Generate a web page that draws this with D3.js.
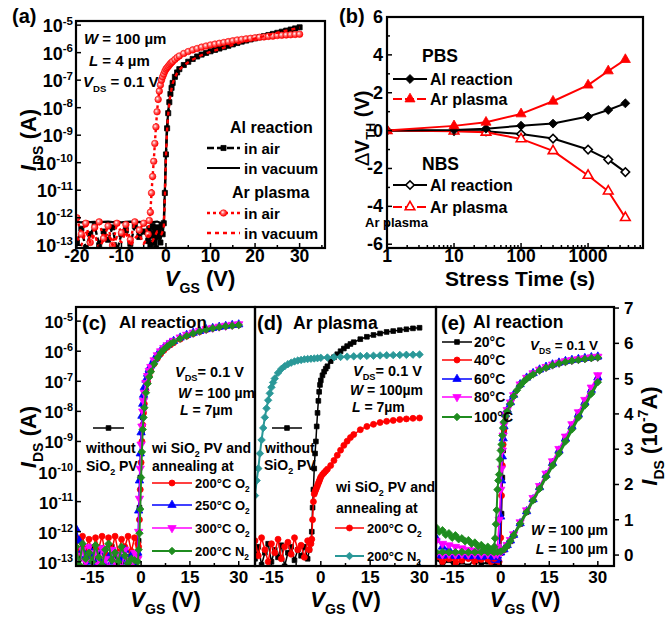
<!DOCTYPE html>
<html lang="en">
<head>
<meta charset="UTF-8" />
<title>TFT transfer and bias stress</title>
<script src="https://d3js.org/d3.v7.min.js"></script>
<style>
  body { margin: 0; background: #fff; }
  svg { display: block; font-family: "Liberation Sans", Arial, Helvetica, sans-serif; font-weight: bold; }
</style>
</head>
<body>
<svg id="fig" width="672" height="618"></svg>
<script>
// ---------- data (log10 of I_DS in A unless noted) ----------
// (a)
const vgsA = [-20,-19,-18,-17,-16,-15,-14,-13,-12,-11,-10,-9,-8,-7,-6,-5,-4,
  -3.75,-3.5,-3.25,-3,-2.75,-2.5,-2.25,-2,-1.75,-1.5,-1.25,-1,-0.75,-0.5,-0.25,0,0.25,0.5,0.75,1,1.25,1.5,2,2.5,3,
  4,5,6,7,8,9,10,11,12,13,14,15,16,17,18,19,20,21,22,23,24,25,26,27,28,29,30];
const alAirA = [-12.9,-12.4,-13.1,-12.6,-12.3,-13.0,-12.5,-12.8,-12.35,-13.2,-12.6,-12.45,-12.95,-12.3,-12.7,-12.5,-12.85,
  -12.4,-13.0,-12.6,-12.3,-12.9,-12.5,-13.1,-12.35,-12.7,-12.45,-12.9,-12.3,-12.6,-12.2,-11.1,
  -9.7,-8.75,-8.2,-7.8,-7.5,-7.28,-7.1,-6.88,-6.72,-6.6,
  -6.45,-6.33,-6.23,-6.14,-6.07,-6.01,-5.95,-5.9,-5.85,-5.8,-5.75,-5.7,-5.65,-5.6,-5.56,-5.52,-5.48,-5.44,-5.4,-5.36,-5.32,-5.28,-5.24,-5.2,-5.16,-5.12,-5.08];
const arAirA = [-12.0,-12.6,-12.2,-12.9,-12.35,-12.15,-12.75,-12.3,-13.0,-12.2,-12.55,-12.25,-12.8,-12.15,-12.45,-12.2,-12.6,
  -12.1,-11.8,-11.1,-10.5,-9.95,-9.3,-8.7,-8.15,-7.7,-7.4,-7.18,-7.0,-6.88,-6.78,-6.68,
  -6.6,-6.55,-6.5,-6.45,-6.4,-6.36,-6.32,-6.25,-6.18,-6.12,
  -6.03,-5.96,-5.9,-5.85,-5.8,-5.76,-5.72,-5.69,-5.66,-5.63,-5.6,-5.57,-5.54,-5.52,-5.5,-5.48,-5.46,-5.44,-5.43,-5.41,-5.4,-5.38,-5.37,-5.36,-5.35,-5.34,-5.33];
const vgsAv = [-20,-19,-18,-17,-16,-15,-14,-13,-12,-11,-10,-9,-8,-7,-6,-5,-4,-3,-2,-1,
  -0.5,-0.25,0,0.25,0.5,0.75,1,1.5,2,2.5,3,4,5,6,8,10,12,15,18,21,24,27,30];
const alVacA = [-12.15,-12.17,-12.14,-12.16,-12.15,-12.18,-12.15,-12.14,-12.16,-12.15,-12.17,-12.15,-12.14,-12.16,-12.15,-12.17,-12.15,-12.16,-12.14,-12.2,
  -12.3,-11.0,-9.6,-8.7,-8.15,-7.78,-7.48,-7.08,-6.86,-6.7,-6.58,-6.43,-6.31,-6.21,-6.05,-5.93,-5.83,-5.68,-5.54,-5.42,-5.3,-5.18,-5.06];
const arVacA = [-12.7,-13.0,-12.5,-12.9,-12.6,-13.1,-12.8,-12.55,-13.0,-12.7,-12.9,-12.5,-13.05,-12.75,-12.6,-12.95,-12.65,-12.85,-12.5,-12.6,
  -12.4,-11.2,-9.75,-8.8,-8.25,-7.85,-7.52,-7.12,-6.9,-6.74,-6.62,-6.47,-6.35,-6.25,-6.09,-5.97,-5.87,-5.72,-5.57,-5.44,-5.32,-5.2,-5.09];

// (b) threshold shift in V
const stressTime = [1, 10, 30, 100, 300, 1000, 2000, 3600];
const pbsAl = [0, 0.03, 0.1, 0.26, 0.37, 0.74, 1.09, 1.44];
const pbsAr = [0, 0.25, 0.44, 0.88, 1.55, 2.4, 3.15, 3.75];
const nbsAl = [0, -0.02, -0.04, -0.18, -0.42, -1.0, -1.53, -2.19];
const nbsAr = [0, -0.03, -0.09, -0.44, -1.07, -2.37, -3.2, -4.6];

// (c)
const vgsC = [-20,-19,-18,-17,-16,-15,-14,-13,-12,-11,-10,-9,-8,-7,-6,-5,-4,-3,-2,-1,
  -0.75,-0.5,-0.25,0,0.25,0.5,0.75,1,1.5,2,2.5,3,4,5,6,7,8,9,10,12,14,16,18,20,22,24,26,28,30];
const noPvC = [-12.6,-12.9,-12.5,-13.0,-12.7,-12.55,-12.95,-12.65,-13.05,-12.6,-12.8,-12.5,-12.9,-12.7,-13.0,-12.6,-12.85,-12.7,-12.9,-12.8,
  -12.3,-11.2,-10.2,-9.4,-8.7,-8.2,-7.8,-7.5,-7.12,-6.88,-6.7,-6.56,-6.34,-6.17,-6.03,-5.92,-5.82,-5.74,-5.67,
  -5.56,-5.47,-5.39,-5.33,-5.27,-5.23,-5.19,-5.16,-5.14,-5.12];
const o200C = [-12.2,-12.7,-12.15,-12.6,-12.25,-12.8,-12.2,-12.55,-12.15,-12.75,-12.2,-12.6,-12.15,-12.7,-12.25,-12.5,-12.15,-12.65,-12.2,-12.4,
  -12.5,-11.6,-10.6,-9.7,-9.0,-8.45,-8.05,-7.75,-7.3,-7.02,-6.82,-6.66,-6.42,-6.24,-6.09,-5.97,-5.87,-5.79,-5.72,
  -5.6,-5.5,-5.42,-5.35,-5.29,-5.24,-5.2,-5.17,-5.14,-5.12];
const o250C = [-11.9,-12.3,-12.6,-12.8,-13.0,-12.7,-13.2,-12.9,-12.6,-13.1,-12.85,-13.0,-12.7,-13.15,-12.9,-12.6,-13.0,-12.8,-13.1,-12.7,
  -11.3,-10.3,-9.4,-8.7,-8.15,-7.75,-7.45,-7.2,-6.95,-6.75,-6.6,-6.48,-6.28,-6.12,-5.99,-5.88,-5.8,-5.72,-5.66,
  -5.55,-5.46,-5.39,-5.33,-5.27,-5.23,-5.19,-5.16,-5.13,-5.11];
const o300C = [-12.8,-13.2,-12.6,-13.0,-12.5,-13.3,-12.7,-13.1,-12.55,-12.9,-13.2,-12.6,-13.0,-12.75,-13.25,-12.6,-12.95,-13.1,-12.7,-12.9,
  -12.0,-10.9,-9.9,-9.1,-8.5,-8.0,-7.65,-7.38,-7.05,-6.82,-6.65,-6.52,-6.3,-6.13,-6.0,-5.89,-5.8,-5.72,-5.65,
  -5.54,-5.45,-5.38,-5.32,-5.26,-5.22,-5.18,-5.15,-5.12,-5.1];
const n200C = [-12.5,-13.1,-12.4,-12.9,-12.7,-13.0,-12.45,-12.85,-13.1,-12.6,-12.4,-12.95,-12.7,-13.0,-12.5,-12.8,-13.05,-12.9,-12.95,-13.0,
  -12.6,-12.05,-11.25,-10.2,-9.35,-8.6,-8.2,-7.88,-7.38,-7.08,-6.86,-6.68,-6.42,-6.22,-6.06,-5.94,-5.84,-5.76,-5.69,
  -5.58,-5.49,-5.41,-5.34,-5.28,-5.24,-5.2,-5.17,-5.15,-5.13];

// (d)
const vgsD = [-20,-19,-18,-17,-16,-15,-14,-13,-12,-11,-10,-9,-8,-7,-6,-5,-4,
  -3.5,-3,-2.75,-2.5,-2.25,-2,-1.75,-1.5,-1.25,-1,-0.75,-0.5,-0.25,0,0.5,1,1.5,2,3,
  4,5,6,7,8,9,10,12,14,16,18,20,22,24,26,28,30];
const noPvD = [-12.9,-12.5,-13.1,-12.7,-12.4,-13.0,-12.6,-12.85,-12.45,-13.15,-12.7,-12.5,-12.95,-12.6,-12.8,-12.5,-12.9,
  -12.6,-12.3,-12.0,-11.2,-10.6,-9.9,-9.4,-9.0,-8.5,-8.05,-7.65,-7.35,-7.12,-6.97,-6.8,-6.68,-6.58,-6.5,-6.33,
  -6.2,-6.1,-6.0,-5.91,-5.83,-5.76,-5.7,-5.6,-5.52,-5.46,-5.41,-5.36,-5.33,-5.3,-5.27,-5.24,-5.22];
const o200D = [-12.3,-12.8,-12.2,-12.6,-13.0,-12.4,-12.7,-12.25,-12.9,-12.5,-12.35,-12.75,-12.2,-12.6,-12.45,-12.85,-12.3,
  -12.6,-12.4,-12.25,-11.6,-11.0,-10.75,-10.67,-10.6,-10.53,-10.46,-10.39,-10.32,-10.25,-10.18,-10.1,-10.04,-9.98,-9.92,-9.8,
  -9.63,-9.46,-9.29,-9.13,-8.99,-8.87,-8.77,-8.61,-8.5,-8.43,-8.37,-8.33,-8.3,-8.27,-8.25,-8.23,-8.22];
const vgsDn = [-20,-19.5,-19,-18.5,-18,-17.5,-17,-16.5,-16,-15.5,-15,-14.5,-14,
  -13,-12,-11,-10,-9,-8,-7,-6,-5,-4,-3,-2,-1,0,2,4,6,8,10,12,14,16,18,20,22,24,26,28,30];
const n200D = [-10.8,-10.3,-9.9,-9.4,-8.95,-8.55,-8.2,-7.9,-7.63,-7.4,-7.2,-7.04,-6.91,
  -6.72,-6.59,-6.5,-6.43,-6.38,-6.34,-6.31,-6.29,-6.27,-6.26,-6.25,-6.24,-6.23,-6.22,
  -6.21,-6.2,-6.19,-6.18,-6.17,-6.16,-6.155,-6.15,-6.14,-6.135,-6.13,-6.125,-6.12,-6.115,-6.11];

// (e) log curves
const vgsE = [-20,-19,-18,-17,-16,-15,-14,-13,-12,-11,-10,-9,-8,-7,-6,-5,-4,-3,
  -2.5,-2,-1.75,-1.5,-1.25,-1,-0.75,-0.5,-0.25,0,0.25,0.5,0.75,1,1.5,2,
  3,4,5,6,7,8,9,10,12,14,16,18,20,22,24,26,28,30];
const t100E = [-11.85,-12.0,-11.95,-12.1,-12.05,-12.2,-12.12,-12.25,-12.22,-12.32,-12.28,-12.4,-12.36,-12.48,-12.44,-12.55,-12.5,-12.6,
  -12.65,-12.5,-12.22,-11.75,-11.28,-10.6,-10.3,-10.1,-9.6,-9.3,-9.1,-8.8,-8.55,-8.35,-8.15,-8.0,
  -7.75,-7.5,-7.3,-7.15,-7.02,-6.92,-6.84,-6.77,-6.64,-6.55,-6.47,-6.41,-6.36,-6.32,-6.29,-6.26,-6.23,-6.21];
const vgsEc = [-20,-18,-16,-14,-12,-10,-8,-6,-4,-3,-2,-1.5,-1,-0.5,0,0.25,0.5,0.75,1,1.5,2,3,4,
  6,8,10,12,14,16,18,20,22,24,26,28,30];
const t20E = [-12.9,-13.1,-12.95,-13.2,-13.0,-13.15,-12.9,-13.1,-13.0,-12.95,-13.1,-13.0,-12.9,-13.05,
  -12.6,-11.4,-10.2,-9.3,-8.7,-8.2,-8.0,-7.73,-7.48,
  -7.12,-6.9,-6.75,-6.63,-6.54,-6.46,-6.4,-6.35,-6.31,-6.28,-6.25,-6.22,-6.2];
const t40E = [-12.85,-13.0,-12.9,-13.05,-12.95,-12.88,-13.0,-12.92,-12.85,-13.0,-12.9,-12.95,-12.85,-13.0,
  -12.2,-10.8,-9.8,-9.1,-8.6,-8.15,-7.98,-7.72,-7.47,
  -7.11,-6.89,-6.74,-6.62,-6.53,-6.45,-6.39,-6.34,-6.3,-6.27,-6.24,-6.21,-6.19];
const t60E = [-12.2,-12.5,-12.6,-12.7,-12.75,-12.8,-12.78,-12.85,-12.8,-12.9,-12.85,-12.95,-12.9,-12.7,
  -11.5,-10.3,-9.5,-8.9,-8.5,-8.1,-7.95,-7.7,-7.45,
  -7.1,-6.88,-6.73,-6.61,-6.52,-6.44,-6.38,-6.33,-6.29,-6.26,-6.23,-6.2,-6.18];
const t80E = [-12.3,-12.4,-12.45,-12.5,-12.55,-12.6,-12.62,-12.65,-12.7,-12.75,-12.8,-12.75,-12.5,-11.6,
  -10.6,-9.9,-9.3,-8.8,-8.45,-8.1,-7.95,-7.7,-7.46,
  -7.1,-6.88,-6.73,-6.61,-6.52,-6.44,-6.38,-6.33,-6.29,-6.26,-6.23,-6.2,-6.18];
// (e) linear curves, I_DS in 1e-7 A
const vgsEl = [-20,-18,-16,-14,-12,-10,-8,-6,-4,-2,-1,0,1,2,3,4,6,8,10,12,14,16,18,20,22,24,26,28,30];
const t20Lin = [0.05,0.04,0.05,0.05,0.04,0.05,0.05,0.04,0.05,0.05,0.05,0.08,0.15,0.26,0.39,0.55,
  0.88,1.22,1.56,1.9,2.24,2.58,2.92,3.26,3.6,3.94,4.28,4.62,4.96];
const t40Lin = [-0.05,-0.1,-0.08,-0.12,-0.06,-0.1,-0.14,-0.08,-0.12,-0.1,-0.05,0.06,0.15,0.27,0.4,0.56,
  0.89,1.23,1.57,1.91,2.25,2.6,2.94,3.28,3.62,3.96,4.3,4.65,5.0];
const t60Lin = [0.0,-0.02,0.01,-0.03,0.0,-0.04,-0.02,-0.05,-0.03,-0.06,-0.02,0.07,0.16,0.28,0.41,0.57,
  0.9,1.24,1.58,1.92,2.27,2.61,2.96,3.3,3.65,3.99,4.33,4.68,5.03];
const t80Lin = [0.03,0.02,0.03,0.02,0.03,0.02,0.03,0.02,0.03,0.02,0.03,0.08,0.17,0.29,0.43,0.59,
  0.93,1.27,1.62,1.96,2.31,2.66,3.01,3.36,3.71,4.05,4.4,4.75,5.1];
const t100Lin = [0.08,0.09,0.08,0.08,0.09,0.08,0.08,0.09,0.08,0.08,0.09,0.1,0.16,0.26,0.4,0.56,
  0.89,1.22,1.55,1.88,2.21,2.54,2.88,3.22,3.56,3.9,4.24,4.57,4.9];

// ---------- layout ----------
const svg = d3.select("#fig");
const defs = svg.append("defs");
const RED = "#ff0000", BLUE = "#0000ff", MAG = "#ff00ff", GREEN = "#1f8c1f", TEAL = "#2a9898";

const A = {l: 76, r: 325, t: 21, b: 248};
const B = {l: 387, r: 643, t: 17, b: 248};
const C = {l: 76, r: 255, t: 307, b: 566};
const D = {l: 255, r: 436, t: 307, b: 566};
const E = {l: 436, r: 614, t: 307, b: 566};

const xA = d3.scaleLinear().domain([-20.2, 35.7]).range([A.l, A.r]);
const yA = d3.scaleLog().domain([Math.pow(10, -13.1), Math.pow(10, -4.85)]).range([A.b, A.t]);
const xB = d3.scaleLog().domain([1, 6600]).range([B.l, B.r]);
const yB = d3.scaleLinear().domain([-6.2, 6]).range([B.b, B.t]);
const xC = d3.scaleLinear().domain([-20, 35]).range([C.l, C.r]);
const xD = d3.scaleLinear().domain([-20, 35]).range([D.l, D.r]);
const xE = d3.scaleLinear().domain([-20, 35]).range([E.l, E.r]);
const yL = d3.scaleLog().domain([Math.pow(10, -13.14), Math.pow(10, -4.53)]).range([C.b, C.t]);
const yE = d3.scaleLinear().domain([-0.31, 7.03]).range([E.b, E.t]);

const grad = defs.append("radialGradient").attr("id", "sphere")
  .attr("cx", "38%").attr("cy", "38%").attr("r", "62%");
grad.append("stop").attr("offset", "0%").attr("stop-color", "#ffffff");
grad.append("stop").attr("offset", "40%").attr("stop-color", "#ff7070");
grad.append("stop").attr("offset", "100%").attr("stop-color", "#ff0000");

function panel(id, P) {
  defs.append("clipPath").attr("id", "clip-" + id).append("rect")
    .attr("x", P.l).attr("y", P.t).attr("width", P.r - P.l).attr("height", P.b - P.t);
  return svg.append("g").attr("clip-path", `url(#clip-${id})`);
}

// text with italic / sub / sup parts
function rich(g, x, y, parts, size, opts = {}) {
  const t = g.append("text").attr("x", x).attr("y", y)
    .attr("font-size", size).attr("font-weight", "bold")
    .attr("text-anchor", opts.anchor || "start");
  if (opts.rotate) t.attr("transform", `rotate(${opts.rotate},${x},${y})`);
  let shift = 0;
  parts.forEach(p => {
    const [str, kind] = Array.isArray(p) ? p : [p, ""];
    let target = 0, fs = size;
    if (kind === "sub") { target = size * 0.3; fs = size * 0.64; }
    if (kind === "sup") { target = -size * 0.42; fs = size * 0.64; }
    const ts = t.append("tspan").text(str).attr("font-size", fs);
    if (target !== shift) ts.attr("dy", target - shift);
    shift = target;
    if (kind === "i") ts.attr("font-style", "italic");
    if (kind === "n") ts.attr("font-weight", "normal");
  });
  return t;
}

const rot = {tridown: 180, diamond: 45};
function sym(type, size) {
  const t = {square: d3.symbolSquare, diamond: d3.symbolSquare, circle: d3.symbolCircle,
    triangle: d3.symbolTriangle, tridown: d3.symbolTriangle}[type];
  return d3.symbol(t, size)();
}
function marker(g, x, y, st) {
  g.append("path").attr("d", sym(st.marker, st.size || 25))
    .attr("transform", `translate(${x},${y}) rotate(${rot[st.marker] || 0})`)
    .attr("fill", st.fill || st.color).attr("stroke", st.stroke || st.color)
    .attr("stroke-width", st.sw || 0.8);
}
function drawSeries(g, xs, ys, sx, sy, st) {
  const pts = xs.map((v, i) => [sx(v), sy(st.log ? Math.pow(10, ys[i]) : ys[i])]);
  g.append("path").attr("d", d3.line()(pts)).attr("fill", "none")
    .attr("stroke", st.color).attr("stroke-width", st.width || 1.5)
    .attr("stroke-dasharray", st.dash || null).attr("stroke-linejoin", "round");
  if (st.marker) {
    const mg = g.append("g");
    pts.forEach(p => marker(mg, p[0], p[1], st));
  }
}
function legendLine(x1, x2, y, st) {
  svg.append("line").attr("x1", x1).attr("x2", x2).attr("y1", y).attr("y2", y)
    .attr("stroke", st.color).attr("stroke-width", st.width || 1.5)
    .attr("stroke-dasharray", st.dash || null);
  if (st.marker) marker(svg, (x1 + x2) / 2, y, st);
}
function frame(P) {
  svg.append("rect").attr("x", P.l).attr("y", P.t).attr("width", P.r - P.l).attr("height", P.b - P.t)
    .attr("fill", "none").attr("stroke", "#000").attr("stroke-width", 2.2);
}
function vTick(sx, v, y0, len) {
  svg.append("line").attr("x1", sx(v)).attr("x2", sx(v)).attr("y1", y0).attr("y2", y0 - len)
    .attr("stroke", "#000").attr("stroke-width", 1.5);
}
function hTick(sy, v, x0, len) {
  svg.append("line").attr("x1", x0).attr("x2", x0 + len).attr("y1", sy(v)).attr("y2", sy(v))
    .attr("stroke", "#000").attr("stroke-width", 1.5);
}

// ---------- (a) ----------
const gA = panel("a", A);
const stAlAir = {log: true, color: "#000", width: 2.4, dash: "7,3", marker: "square", size: 26};
const stAlVac = {log: true, color: "#000", width: 2.2};
const stArAir = {log: true, color: RED, width: 2.4, dash: "3,3", marker: "circle", size: 34, fill: "url(#sphere)", sw: 0.6};
const stArVac = {log: true, color: RED, width: 2.4, dash: "4,4"};
drawSeries(gA, vgsAv, alVacA, xA, yA, stAlVac);
drawSeries(gA, vgsA, alAirA, xA, yA, stAlAir);
drawSeries(gA, vgsA, arAirA, xA, yA, stArAir);
drawSeries(gA, vgsAv, arVacA, xA, yA, stArVac);
frame(A);
[-20, -10, 0, 10, 20, 30].forEach(v => {
  vTick(xA, v, A.b, 5);
  rich(svg, xA(v), 262, [String(v)], 17.5, {anchor: "middle"});
});
[-15, -5, 5, 15, 25, 35].forEach(v => vTick(xA, v, A.b, 3));
d3.range(-13, -4).forEach(e => {
  hTick(yA, Math.pow(10, e), A.l, 5);
  rich(svg, 73, yA(Math.pow(10, e)) + 7, ["10", ["-" + (-e), "sup"]], 18, {anchor: "end"});
});
rich(svg, 12, 23, ["(a)"], 20);
rich(svg, 200, 286, [["V", "i"], ["GS", "sub"], " (V)"], 22, {anchor: "middle"});
rich(svg, 36, 140, [["I", "i"], ["DS", "sub"], " (A)"], 22, {anchor: "middle", rotate: -90});
rich(svg, 84, 44, [["W", "i"], " = 100 µm"], 15);
rich(svg, 89, 66, [["L", "i"], " = 4 µm"], 15);
rich(svg, 83, 87, [["V", "i"], ["DS", "sub"], " = 0.1 V"], 15);
rich(svg, 230, 133, ["Al reaction"], 16);
legendLine(207, 240, 148, stAlAir);
rich(svg, 244, 154, ["in air"], 15);
legendLine(207, 240, 168, stAlVac);
rich(svg, 244, 174, ["in vacuum"], 15);
rich(svg, 232, 198, ["Ar plasma"], 16);
legendLine(207, 240, 213, stArAir);
rich(svg, 244, 219, ["in air"], 15);
legendLine(207, 240, 233, stArVac);
rich(svg, 244, 239, ["in vacuum"], 15);

// ---------- (b) ----------
const gB = panel("b", B);
const stPAl = {color: "#000", width: 2, marker: "diamond", size: 40};
const stPAr = {color: RED, width: 2, marker: "triangle", size: 44};
const stNAl = {color: "#000", width: 2, marker: "diamond", size: 36, fill: "#fff", sw: 1.6};
const stNAr = {color: RED, width: 2, marker: "triangle", size: 40, fill: "#fff", sw: 1.6};
drawSeries(gB, stressTime, nbsAl, xB, yB, stNAl);
drawSeries(gB, stressTime, nbsAr, xB, yB, stNAr);
drawSeries(gB, stressTime, pbsAl, xB, yB, stPAl);
drawSeries(gB, stressTime, pbsAr, xB, yB, stPAr);
frame(B);
[1, 10, 100, 1000].forEach(v => {
  vTick(xB, v, B.b, 5);
  rich(svg, xB(v), 262, [String(v)], 17.5, {anchor: "middle"});
});
[2,3,4,5,6,7,8,9,20,30,40,50,60,70,80,90,200,300,400,500,600,700,800,900,2000,3000,4000,5000,6000]
  .forEach(v => vTick(xB, v, B.b, 3));
[-6, -4, -2, 0, 2, 4, 6].forEach(v => {
  hTick(yB, v, B.l, 5);
  rich(svg, 383, yB(v) + 6, [String(v)], 18, {anchor: "end"});
});
[-5, -3, -1, 1, 3, 5].forEach(v => hTick(yB, v, B.l, 3));
rich(svg, 339, 23, ["(b)"], 20);
rich(svg, 520, 286, ["Stress Time (s)"], 21, {anchor: "middle"});
rich(svg, 369, 128, [["\u2206", "n"], "V", ["TH", "sub"], " (V)"], 20, {anchor: "middle", rotate: -90});
rich(svg, 422, 62, ["PBS"], 17.5);
legendLine(393, 427, 79, stPAl);
rich(svg, 430, 85, ["Al reaction"], 16);
legendLine(393, 427, 99, {...stPAr, dash: "9,3"});
rich(svg, 430, 105, ["Ar plasma"], 16);
rich(svg, 422, 170, ["NBS"], 17.5);
legendLine(393, 427, 185, stNAl);
rich(svg, 430, 191, ["Al reaction"], 16);
legendLine(393, 427, 207, {...stNAr, dash: "9,3"});
rich(svg, 430, 213, ["Ar plasma"], 16);
rich(svg, 365, 227, ["Ar plasma"], 13);

// ---------- (c) ----------
const gC = panel("c", C);
const stNoPv = {log: true, color: "#000", marker: "square", size: 22};
const stO200 = {log: true, color: RED, marker: "circle", size: 28};
const stO250 = {log: true, color: BLUE, marker: "triangle", size: 30};
const stO300 = {log: true, color: MAG, marker: "tridown", size: 30};
const stN200 = {log: true, color: GREEN, width: 2, marker: "diamond", size: 28};
drawSeries(gC, vgsC, noPvC, xC, yL, stNoPv);
drawSeries(gC, vgsC, o200C, xC, yL, stO200);
drawSeries(gC, vgsC, o250C, xC, yL, stO250);
drawSeries(gC, vgsC, o300C, xC, yL, stO300);
drawSeries(gC, vgsC, n200C, xC, yL, stN200);

// ---------- (d) ----------
const gD = panel("d", D);
const stN200d = {log: true, color: TEAL, width: 2, marker: "diamond", size: 28};
drawSeries(gD, vgsD, noPvD, xD, yL, stNoPv);
drawSeries(gD, vgsD, o200D, xD, yL, stO200);
drawSeries(gD, vgsDn, n200D, xD, yL, stN200d);

// ---------- (e) ----------
const gE = panel("e", E);
const stT20 = {log: true, color: "#000", marker: "square", size: 22};
const stT40 = {log: true, color: RED, marker: "circle", size: 28};
const stT60 = {log: true, color: BLUE, marker: "triangle", size: 30};
const stT80 = {log: true, color: MAG, marker: "tridown", size: 30};
const stT100 = {log: true, color: GREEN, width: 2, marker: "diamond", size: 28};
drawSeries(gE, vgsEc, t20E, xE, yL, stT20);
drawSeries(gE, vgsEc, t40E, xE, yL, stT40);
drawSeries(gE, vgsEc, t60E, xE, yL, stT60);
drawSeries(gE, vgsEc, t80E, xE, yL, stT80);
drawSeries(gE, vgsEl, t20Lin, xE, yE, {...stT20, log: false});
drawSeries(gE, vgsEl, t40Lin, xE, yE, {...stT40, log: false});
drawSeries(gE, vgsEl, t60Lin, xE, yE, {...stT60, log: false});
drawSeries(gE, vgsEl, t80Lin, xE, yE, {...stT80, log: false});
drawSeries(gE, vgsE, t100E, xE, yL, stT100);
drawSeries(gE, vgsEl, t100Lin, xE, yE, {...stT100, log: false, width: 3});

// frames and axes of the bottom row
[[C, xC], [D, xD], [E, xE]].forEach(([P, sx]) => {
  frame(P);
  [-15, 0, 15, 30].forEach(v => {
    vTick(sx, v, P.b, 5);
    rich(svg, sx(v), 583, [String(v)], 17, {anchor: "middle"});
  });
  [-7.5, 7.5, 22.5].forEach(v => vTick(sx, v, P.b, 3));
  rich(svg, (P.l + P.r) / 2, 607, [["V", "i"], ["GS", "sub"], " (V)"], 22, {anchor: "middle"});
});
d3.range(-13, -4).forEach(e => {
  hTick(yL, Math.pow(10, e), C.l, 5);
  rich(svg, 73, yL(Math.pow(10, e)) + 7, ["10", ["-" + (-e), "sup"]], 17, {anchor: "end"});
});
d3.range(0, 8).forEach(v => {
  hTick(yE, v, E.r, 5);
  rich(svg, 624, yE(v) + 6, [String(v)], 17);
});
rich(svg, 36, 437, [["I", "i"], ["DS", "sub"], " (A)"], 22, {anchor: "middle", rotate: -90});
rich(svg, 657, 436, [["I", "i"], ["DS", "sub"], " (10", ["-7", "sup"], "A)"], 22, {anchor: "middle", rotate: -90});

// (c) annotations
rich(svg, 82, 330, ["(c)"], 20);
rich(svg, 119, 328, ["Al reaction"], 17);
rich(svg, 175, 377, [["V", "i"], ["DS", "sub"], "= 0.1 V"], 14.5);
rich(svg, 178, 398, [["W", "i"], " = 100 µm"], 14);
rich(svg, 180, 415, [["L", "i"], " = 7µm"], 14);
legendLine(93, 124, 428, stNoPv);
rich(svg, 86, 453, ["without"], 14);
rich(svg, 86, 471, ["SiO", ["2", "sub"], " PV"], 14);
rich(svg, 152, 453, ["wi SiO", ["2", "sub"], " PV and"], 14);
rich(svg, 152, 471, ["annealing at"], 14);
[[stO200, "200°C O"], [stO250, "250°C O"], [stO300, "300°C O"], [stN200, "200°C N"]].forEach(([st, lab], i) => {
  const y = [483, 505, 528, 551][i];
  legendLine(152, 192, y, st);
  rich(svg, 195, y + 5, [lab, ["2", "sub"]], 13);
});

// (d) annotations
rich(svg, 257, 330, ["(d)"], 20);
rich(svg, 293, 329, ["Ar plasma"], 17.5);
rich(svg, 353, 376, [["V", "i"], ["DS", "sub"], "= 0.1 V"], 14.5);
rich(svg, 350, 395, [["W", "i"], " = 100µm"], 14);
rich(svg, 352, 412, [["L", "i"], " = 7µm"], 14);
legendLine(272, 302, 428, stNoPv);
rich(svg, 265, 453, ["without"], 14);
rich(svg, 264, 470, ["SiO", ["2", "sub"], " PV"], 14);
rich(svg, 336, 492, ["wi SiO", ["2", "sub"], " PV and"], 14);
rich(svg, 336, 513, ["annealing at"], 14);
legendLine(335, 364, 528, stO200);
rich(svg, 367, 533, ["200°C O", ["2", "sub"]], 13);
legendLine(335, 364, 556, stN200d);
rich(svg, 367, 561, ["200°C N", ["2", "sub"]], 13);

// (e) annotations
rich(svg, 441, 330, ["(e)"], 20);
rich(svg, 473, 328, ["Al reaction"], 17.5);
[[stT20, "20°C"], [stT40, "40°C"], [stT60, "60°C"], [stT80, "80°C"], [stT100, "100°C"]].forEach(([st, lab], i) => {
  const y = [342, 360, 379, 397, 417][i];
  legendLine(442, 472, y, st);
  rich(svg, 474, y + 5, [lab], 14);
});
rich(svg, 530, 350, [["V", "i"], ["DS", "sub"], " = 0.1 V"], 13.5);
rich(svg, 608, 535, [["W", "i"], " = 100 µm"], 14, {anchor: "end"});
rich(svg, 608, 554, [["L", "i"], " = 100 µm"], 14, {anchor: "end"});
</script>
</body>
</html>
